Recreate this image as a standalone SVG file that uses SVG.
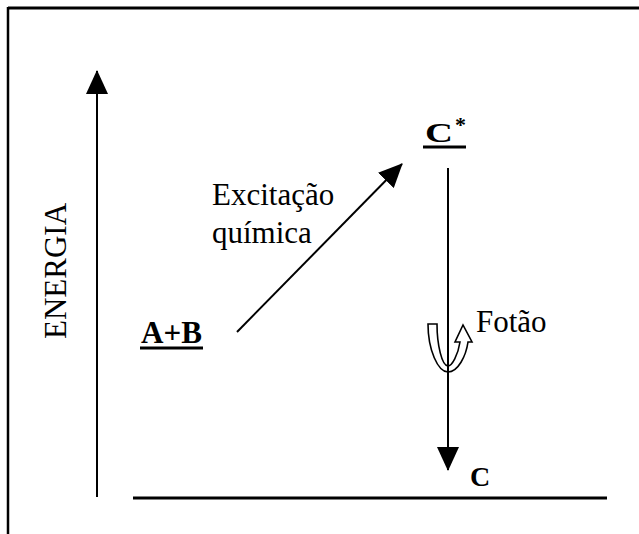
<svg xmlns="http://www.w3.org/2000/svg" width="639" height="534" viewBox="0 0 639 534">
<style>
.t{font-family:"Liberation Serif","Times New Roman",serif;fill:#000}
.b{font-weight:bold}
.ln{stroke:#000;stroke-width:2;fill:none}
</style>
<defs>
<marker id="ah" markerUnits="userSpaceOnUse" markerWidth="24" markerHeight="22" refX="23" refY="11" orient="auto">
<path d="M0,0 L24,11 L0,22 Z" fill="#000"/>
</marker>
</defs>
<rect width="639" height="534" fill="#fff"/>
<g id="frame">
<line x1="8" y1="8" x2="639" y2="8" stroke="#000" stroke-width="3"/>
<line x1="8" y1="7" x2="8" y2="534" stroke="#000" stroke-width="2.5"/>
</g>
<g id="connectors">
<line class="ln" x1="97" y1="497" x2="97" y2="71" marker-end="url(#ah)"/>
<line class="ln" x1="237" y1="332" x2="402" y2="164" marker-end="url(#ah)"/>
<line class="ln" x1="448" y1="168" x2="448" y2="470" marker-end="url(#ah)"/>
<line x1="133" y1="498" x2="607" y2="498" stroke="#000" stroke-width="3"/>
</g>
<g id="energia">
<text class="t" font-size="31" text-anchor="middle" transform="translate(66,271) rotate(-90)">ENERGIA</text>
</g>
<g id="node-AB">
<text class="t b" x="141" y="343" font-size="31" textLength="61" lengthAdjust="spacingAndGlyphs">A+B</text>
<line x1="140" y1="348" x2="203" y2="348" stroke="#000" stroke-width="3"/>
</g>
<g id="node-Cstar">
<text class="t b" x="425" y="142" font-size="27" textLength="28" lengthAdjust="spacingAndGlyphs">C</text>
<text class="t b" x="455" y="132" font-size="22">*</text>
<line x1="423" y1="147" x2="466" y2="147" stroke="#000" stroke-width="3"/>
</g>
<g id="node-C">
<text class="t b" x="470" y="486" font-size="28">C</text>
</g>
<g id="label-excitacao">
<text class="t" x="212" y="205" font-size="31">Excitação</text>
<text class="t" x="212" y="243" font-size="31">química</text>
</g>
<g id="photon">
<path d="M428,324 C428,350 438,372 448,372 C458,372 466,356 468,342 L472,342 L463,325 L455,342 L460,342 C458,355 452,366 448,366 C442,366 437,345 437,324 Z" fill="none" stroke="#000" stroke-width="1.6" stroke-linejoin="miter"/>
<text class="t" x="476" y="332" font-size="31">Fotão</text>
</g>
</svg>
